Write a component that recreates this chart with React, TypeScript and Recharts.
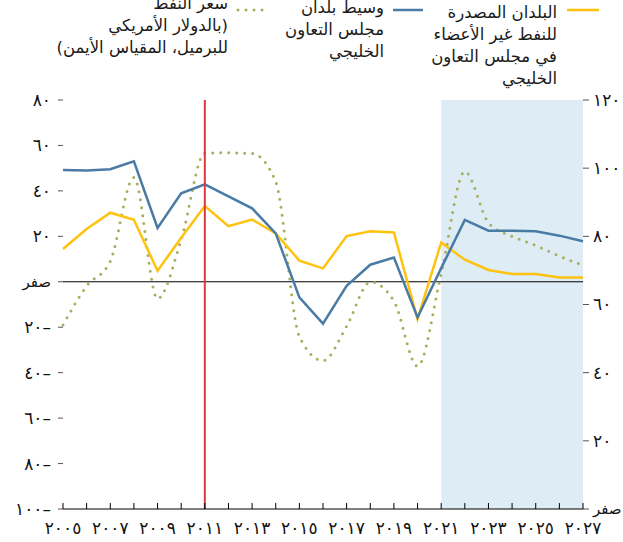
import React from "react";
import {
  LineChart, Line, XAxis, YAxis, ReferenceArea, ReferenceLine,
} from "recharts";

const years = [2005, 2006, 2007, 2008, 2009, 2010, 2011, 2012, 2013, 2014, 2015, 2016, 2017, 2018, 2019, 2020, 2021, 2022, 2023, 2024, 2025, 2026, 2027];
const nonGccExporters = [14.4, 23.2, 30.4, 27.3, 4.8, 19.4, 33.3, 24.5, 27.4, 21.3, 9.3, 5.9, 20.1, 22.2, 21.7, -16.4, 17.3, 9.7, 5.2, 3.4, 3.4, 1.9, 1.9];
const gccMedian = [49.2, 49, 49.5, 53, 23.7, 38.9, 42.9, 37.6, 32.3, 21.3, -6.9, -18.4, -1.8, 7.5, 10.7, -15.7, 6, 27.2, 22.5, 22.5, 22.2, 20.3, 17.8];
const oilPrice = [54, 65.4, 72.7, 97.3, 61.7, 79, 104.4, 104.5, 104.3, 96, 50.6, 43.5, 53.6, 66.6, 61, 41.9, 69, 99, 84, 80, 77.3, 74.2, 71.5];

const leftTicks = [-100, -80, -60, -40, -20, 0, 20, 40, 60, 80];
const rightTicks = [0, 20, 40, 60, 80, 100, 120];

const data = years.map((y, i) => ({
  year: y,
  nonGcc: nonGccExporters[i],
  gcc: gccMedian[i],
  oil: oilPrice[i],
}));

const FONT = "'DejaVu Sans', sans-serif";
const YELLOW = "#FFC20E";
const BLUE = "#4A7BA5";
const GREEN = "#A8AE5C";

const ar = (n: number) => String(n).replace(/\d/g, (d) => "٠١٢٣٤٥٦٧٨٩"[+d]);
const leftFmt = (v: number) => (v === 0 ? "صفر" : v < 0 ? ar(-v) + "–" : ar(v));
const rightFmt = (v: number) => (v === 0 ? "صفر" : ar(v));

function YearTick(props: any) {
  const { x, y, payload } = props;
  const yr = payload.value as number;
  return (
    <g>
      <line x1={x} x2={x} y1={y} y2={y - 6} stroke="#000" strokeWidth={1} />
      {yr % 2 === 1 && (
        <text x={x} y={y + 25} textAnchor="middle" fontSize={17} fontFamily={FONT} fill="#111" letterSpacing={1}>
          {ar(yr)}
        </text>
      )}
    </g>
  );
}

function ValueTick(props: any) {
  const { x, y, payload, textAnchor, fmt } = props;
  const v = payload.value as number;
  return (
    <text
      x={x}
      y={y}
      dy="0.35em"
      textAnchor={textAnchor}
      fontSize={v === 0 ? 15 : 17}
      fontFamily={FONT}
      fill="#111"
      letterSpacing={v === 0 ? 0 : 1}
    >
      {fmt(v)}
    </text>
  );
}

const legendText: React.CSSProperties = {
  position: "absolute",
  textAlign: "right",
  fontFamily: FONT,
  fontSize: 16.5,
  lineHeight: "22px",
  color: "#1a1a1a",
  whiteSpace: "nowrap",
};

export default function App() {
  return (
    <div style={{ position: "absolute", left: 0, top: 0, width: 623, height: 542, background: "#fff", overflow: "hidden" }}>
      <LineChart width={623} height={542} data={data} margin={{ top: 100, right: 0, bottom: 0, left: 0 }}>
        <ReferenceArea yAxisId="l" x1={2021} x2={2027} y1={-100} y2={80} fill="#DEECF6" fillOpacity={1} stroke="none" />
        <XAxis
          dataKey="year"
          type="number"
          domain={[2005, 2027]}
          ticks={years}
          interval={0}
          height={33}
          tickSize={0}
          tickMargin={0}
          tickLine={false}
          axisLine={{ stroke: "#000", strokeWidth: 1 }}
          tick={<YearTick />}
        />
        <YAxis
          yAxisId="l"
          domain={[-100, 80]}
          ticks={leftTicks}
          interval={0}
          width={63}
          axisLine={false}
          tickSize={5}
          tickMargin={7}
          tickLine={{ stroke: "#555" }}
          tick={<ValueTick fmt={leftFmt} />}
        />
        <YAxis
          yAxisId="r"
          orientation="right"
          domain={[0, 120]}
          ticks={rightTicks}
          interval={0}
          width={40}
          axisLine={false}
          tickSize={6}
          tickMargin={4}
          tickLine={{ stroke: "#555" }}
          tick={<ValueTick fmt={rightFmt} />}
        />
        <ReferenceLine yAxisId="l" y={0} stroke="#000" strokeWidth={1} />
        <Line yAxisId="r" dataKey="oil" type="monotone" stroke={GREEN} strokeWidth={3} strokeDasharray="0 8" strokeLinecap="round" dot={false} isAnimationActive={false} />
        <Line yAxisId="l" dataKey="nonGcc" type="linear" stroke={YELLOW} strokeWidth={2.5} dot={false} isAnimationActive={false} />
        <Line yAxisId="l" dataKey="gcc" type="linear" stroke={BLUE} strokeWidth={2.5} dot={false} isAnimationActive={false} />
        <ReferenceLine yAxisId="l" x={2011} stroke="#E0383A" strokeWidth={2} />
      </LineChart>

      <svg style={{ position: "absolute", left: 0, top: 0 }} width={623} height={30}>
        <line x1={567} x2={599} y1={10} y2={10} stroke={YELLOW} strokeWidth={2.5} />
        <line x1={393} x2={423} y1={10} y2={10} stroke={BLUE} strokeWidth={2.5} />
        <line x1={238} x2={268} y1={10} y2={10} stroke={GREEN} strokeWidth={3} strokeDasharray="0 8" strokeLinecap="round" />
      </svg>
      <div dir="rtl" style={{ ...legendText, right: 623 - 557, top: 2 }}>
        البلدان المصدرة<br />للنفط غير الأعضاء<br />في مجلس التعاون<br />الخليجي
      </div>
      <div dir="rtl" style={{ ...legendText, right: 623 - 384, top: -3 }}>
        وسيط بلدان<br />مجلس التعاون<br />الخليجي
      </div>
      <div dir="rtl" style={{ ...legendText, right: 623 - 228, top: -7 }}>
        سعر النفط<br />(بالدولار الأمريكي<br />للبرميل، المقياس الأيمن)
      </div>
    </div>
  );
}
